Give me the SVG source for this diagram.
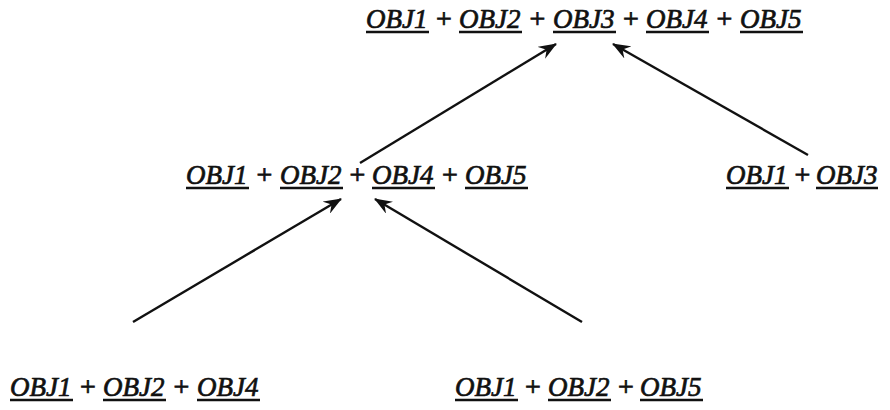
<svg xmlns="http://www.w3.org/2000/svg" width="890" height="410" viewBox="0 0 890 410">
  <style>
    .t { font-family: "Liberation Serif", "Times New Roman", serif; font-size: 27px; font-style: italic; fill: #111; stroke: #111; stroke-width: 0.7; }
    .p { font-family: "Liberation Serif", "Times New Roman", serif; font-size: 28px; fill: #111; stroke: #111; stroke-width: 0.8; text-anchor: middle; }
    .u { stroke: #111; stroke-width: 2.4; }
    .c { stroke: #111; stroke-width: 2.4; fill: none; marker-end: url(#ah); }
  </style>
  <defs>
    <marker id="ah" markerUnits="userSpaceOnUse" viewBox="0 0 18 14" refX="17" refY="7" markerWidth="18" markerHeight="14" orient="auto">
      <path d="M0,0 L18,7 L0,14 L6,7 Z" fill="#111"/>
    </marker>
  </defs>
  <rect width="890" height="410" fill="#fff"/>

  <g id="n-top">
    <text class="t" x="366" y="28">OBJ1</text>
    <line class="u" x1="366" y1="32" x2="429" y2="32"/>
    <text class="p" x="444" y="28">+</text>
    <text class="t" x="459" y="28">OBJ2</text>
    <line class="u" x1="459" y1="32" x2="522" y2="32"/>
    <text class="p" x="537.5" y="28">+</text>
    <text class="t" x="553" y="28">OBJ3</text>
    <line class="u" x1="553" y1="32" x2="616" y2="32"/>
    <text class="p" x="631" y="28">+</text>
    <text class="t" x="646" y="28">OBJ4</text>
    <line class="u" x1="646" y1="32" x2="709" y2="32"/>
    <text class="p" x="724.5" y="28">+</text>
    <text class="t" x="740" y="28">OBJ5</text>
    <line class="u" x1="740" y1="32" x2="803" y2="32"/>
  </g>

  <g id="n-mid">
    <text class="t" x="186" y="184">OBJ1</text>
    <line class="u" x1="186" y1="188" x2="249" y2="188"/>
    <text class="p" x="264.5" y="184">+</text>
    <text class="t" x="280" y="184">OBJ2</text>
    <line class="u" x1="280" y1="188" x2="343" y2="188"/>
    <text class="p" x="357.5" y="184">+</text>
    <text class="t" x="372" y="184">OBJ4</text>
    <line class="u" x1="372" y1="188" x2="435" y2="188"/>
    <text class="p" x="450" y="184">+</text>
    <text class="t" x="465" y="184">OBJ5</text>
    <line class="u" x1="465" y1="188" x2="528" y2="188"/>
  </g>

  <g id="n-right">
    <text class="t" x="726" y="184">OBJ1</text>
    <line class="u" x1="726" y1="188" x2="789" y2="188"/>
    <text class="p" x="802.5" y="184">+</text>
    <text class="t" x="816" y="184">OBJ3</text>
    <line class="u" x1="816" y1="188" x2="878" y2="188"/>
  </g>

  <g id="n-botleft">
    <text class="t" x="10" y="396">OBJ1</text>
    <line class="u" x1="10" y1="400" x2="73" y2="400"/>
    <text class="p" x="88" y="396">+</text>
    <text class="t" x="103" y="396">OBJ2</text>
    <line class="u" x1="103" y1="400" x2="166" y2="400"/>
    <text class="p" x="181.5" y="396">+</text>
    <text class="t" x="197" y="396">OBJ4</text>
    <line class="u" x1="197" y1="400" x2="260" y2="400"/>
  </g>

  <g id="n-botmid">
    <text class="t" x="455" y="396">OBJ1</text>
    <line class="u" x1="455" y1="400" x2="518" y2="400"/>
    <text class="p" x="533" y="396">+</text>
    <text class="t" x="548" y="396">OBJ2</text>
    <line class="u" x1="548" y1="400" x2="611" y2="400"/>
    <text class="p" x="626" y="396">+</text>
    <text class="t" x="640" y="396">OBJ5</text>
    <line class="u" x1="640" y1="400" x2="703" y2="400"/>
  </g>

  <g id="connectors">
    <line class="c" x1="360" y1="163" x2="556" y2="44"/>
    <line class="c" x1="808" y1="155" x2="613" y2="44"/>
    <line class="c" x1="133" y1="322" x2="341" y2="199"/>
    <line class="c" x1="582" y1="322" x2="375" y2="199"/>
  </g>
</svg>
